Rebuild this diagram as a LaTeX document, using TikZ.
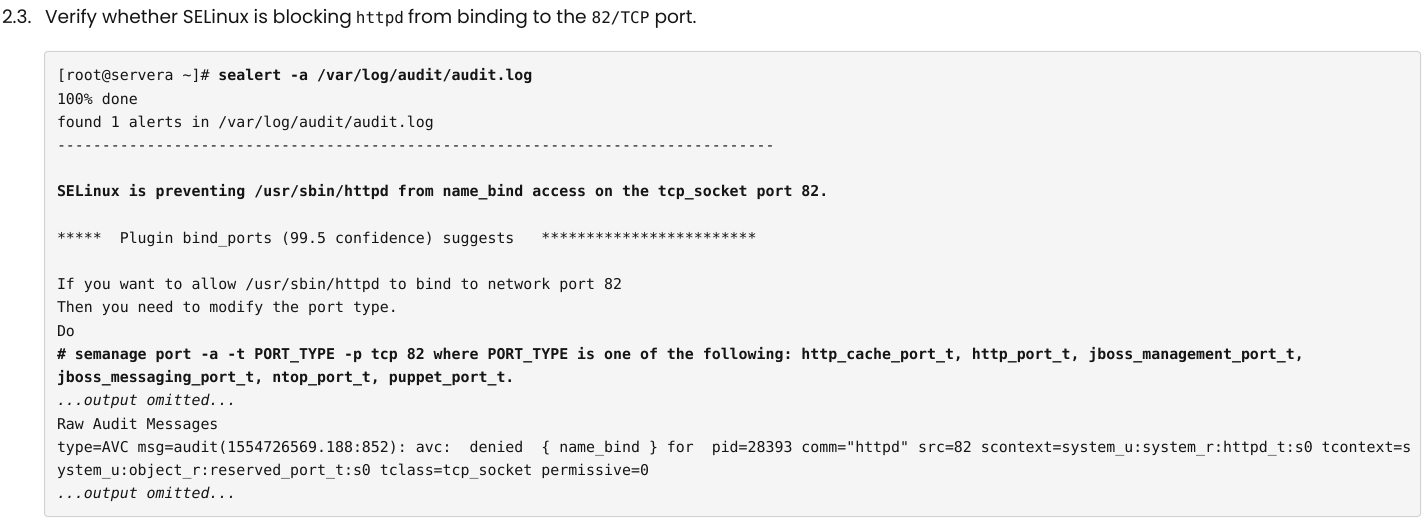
\documentclass[tikz,border=0pt]{standalone}
\usepackage{fontspec}
\setmonofont{DejaVu Sans Mono}
\newfontfamily\titlefont{Poppins}
\definecolor{txt}{HTML}{151515}
\definecolor{boxfill}{HTML}{F5F5F5}
\definecolor{boxline}{HTML}{D2D2D2}
\tikzset{
  codeline/.style={anchor=base west, inner sep=0pt, outer sep=0pt, text=txt,
    font=\ttfamily\fontsize{14.9}{17}\selectfont},
  titletext/.style={anchor=base west, inner sep=0pt, outer sep=0pt, text=txt,
    font=\titlefont\fontsize{18.6}{24}\selectfont},
  titlecode/.style={anchor=base west, inner sep=0pt, outer sep=0pt, text=txt,
    font=\ttfamily\fontsize{16}{20}\selectfont},
  codebox/.style={draw=boxline, fill=boxfill, line width=1pt, rounded corners=3pt}
}
\begin{document}
\begin{tikzpicture}[x=1pt,y=-1pt]
\fill[white] (0,0) rectangle (1425,521);
\useasboundingbox (0,0) rectangle (1425,521);
% title
\node[titletext] (t1) at (2,24) {2.3.};
\node[titletext] (t2) at (45,24) {Verify whether SELinux is blocking};
\node[titlecode] (t3) at ([xshift=4pt]t2.base east) {httpd};
\node[titletext] (t4) at ([xshift=4pt]t3.base east) {from binding to the};
\node[titlecode] (t5) at ([xshift=5pt]t4.base east) {82/TCP};
\node[titletext] (t6) at ([xshift=5pt]t5.base east) {port.};
% code box
\draw[codebox] (44.5,51.5) rectangle (1420.5,516.5);
\def\lb#1{81+#1*23.2}
\node[codeline] (l1) at (57,{\lb{0}}) {[root@servera \textasciitilde]\# \textbf{sealert -a /var/log/audit/audit.log}};
\node[codeline] (l2) at (57,{\lb{1}}) {100\% done};
\node[codeline] (l3) at (57,{\lb{2}}) {found 1 alerts in /var/log/audit/audit.log};
\node[codeline] (l4) at (57,{\lb{3}}) {--------------------------------------------------------------------------------};
\node[codeline] (l6) at (57,{\lb{5}}) {\textbf{SELinux is preventing /usr/sbin/httpd from name\_bind access on the tcp\_socket port 82.}};
\node[codeline] (l8) at (57,{\lb{7}}) {*****\ \ Plugin bind\_ports (99.5 confidence) suggests\ \ \ ************************};
\node[codeline] (l10) at (57,{\lb{9}}) {If you want to allow /usr/sbin/httpd to bind to network port 82};
\node[codeline] (l11) at (57,{\lb{10}}) {Then you need to modify the port type.};
\node[codeline] (l12) at (57,{\lb{11}}) {Do};
\node[codeline] (l13) at (57,{\lb{12}}) {\textbf{\# semanage port -a -t PORT\_TYPE -p tcp 82 where PORT\_TYPE is one of the following: http\_cache\_port\_t, http\_port\_t, jboss\_management\_port\_t,}};
\node[codeline] (l14) at (57,{\lb{13}}) {\textbf{jboss\_messaging\_port\_t, ntop\_port\_t, puppet\_port\_t.}};
\node[codeline] (l15) at (57,{\lb{14}}) {\textit{...output omitted...}};
\node[codeline] (l16) at (57,{\lb{15}}) {Raw Audit Messages};
\node[codeline] (l17) at (57,{\lb{16}}) {type=AVC msg=audit(1554726569.188:852): avc:\ \ denied\ \ \{ name\_bind \} for\ \ pid=28393 comm="httpd" src=82 scontext=system\_u:system\_r:httpd\_t:s0 tcontext=s};
\node[codeline] (l18) at (57,{\lb{17}}) {ystem\_u:object\_r:reserved\_port\_t:s0 tclass=tcp\_socket permissive=0};
\node[codeline] (l19) at (57,{\lb{18}}) {\textit{...output omitted...}};
\end{tikzpicture}
\end{document}
